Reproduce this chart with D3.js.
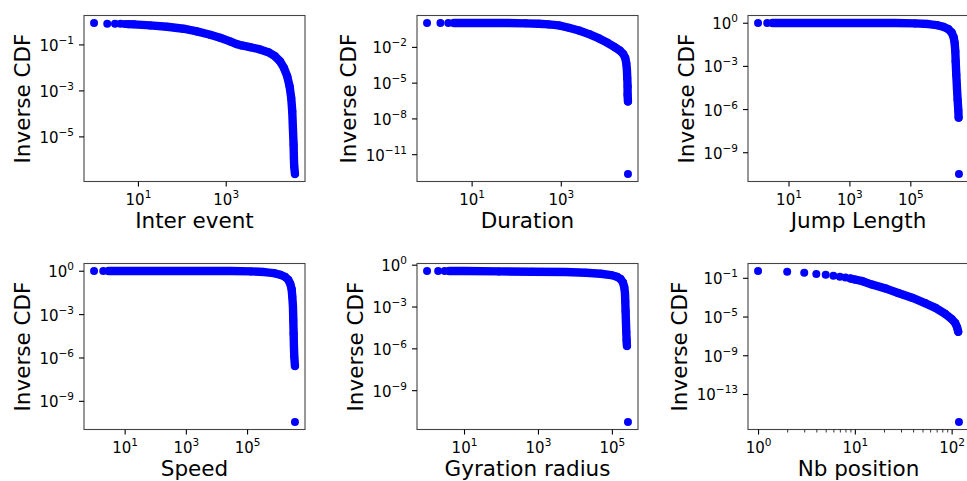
<!DOCTYPE html>
<html><head><meta charset="utf-8">
<script src="https://cdn.jsdelivr.net/npm/d3@7"></script>
<style>
body{margin:0;background:#fff}
svg{display:block}
text{font-family:"DejaVu Sans",sans-serif;fill:#000}
</style>
</head><body>
<svg id="chart" width="967" height="481"></svg>
<script>
// ---------- data ----------
// Inter event
const interDotX = [1, 2, 3, 4, 5];
const interDotY = [0.85, 0.80, 0.80, 0.80, 0.77];
const interX = [6, 8, 19, 46, 109, 220, 442, 745, 1256, 1778, 2313, 3580, 6040, 9330, 13240, 17200, 21200, 25200, 28500, 31100, 32800, 33950, 35200, 35800, 36400, 37800];
const interY = [0.76, 0.745, 0.673, 0.589, 0.482, 0.368, 0.264, 0.195, 0.135, 0.103, 0.0902, 0.0762, 0.0603, 0.0461, 0.0308, 0.0187, 0.00953, 0.00413, 0.00151, 4.67e-4, 1.22e-4, 2.29e-5, 4.29e-6, 1.12e-6, 4.85e-7, 2.32e-7];
const interXTicks = [1e1, 1e3];
const interYTicks = [1e-1, 1e-3, 1e-5];

// Duration
const durDotX = [1, 2, 3, 32100];
const durDotY = [1.0, 1.0, 1.0, 2.19e-13];
const durX = [4, 8.4, 23.7, 67, 160, 319, 537, 903, 1517, 2550, 4300, 7220, 11130, 16300, 21100, 25100, 27900, 29400, 30400, 31000, 31500, 31500, 32100];
const durY = [1.0, 1.0, 1.0, 1.0, 0.94, 0.88, 0.77, 0.636, 0.404, 0.24, 0.118, 0.0508, 0.0219, 0.00944, 0.00494, 0.00258, 0.00119, 4.49e-4, 1.23e-4, 2.44e-5, 4.83e-6, 9.57e-7, 2.62e-7];
const durXTicks = [1e1, 1e3];
const durYTicks = [1e-2, 1e-5, 1e-8, 1e-11];

// Jump Length
const jumpDotX = [1, 2, 3950000];
const jumpDotY = [0.95, 0.95, 3.09e-11];
const jumpX = [3, 16.6, 205, 2550, 31500, 143000, 390000, 732000, 1210000, 1770000, 2270000, 2640000, 2850000, 3000000, 3080000, 3230000, 3400000, 3570000, 3760000, 3850000];
const jumpY = [0.95, 0.95, 0.95, 0.95, 0.95, 0.90, 0.807, 0.687, 0.525, 0.361, 0.211, 0.0995, 0.0399, 0.01045, 0.00209, 2.44e-4, 2.85e-5, 4.36e-6, 8.71e-7, 2.53e-7];
const jumpXTicks = [1e1, 1e3, 1e5];
const jumpYTicks = [1e0, 1e-3, 1e-6, 1e-9];

// Speed
const speedDotX = [1, 2, 3670000];
const speedDotY = [0.95, 0.95, 3.47e-11];
const speedX = [3, 16.5, 201, 2460, 30100, 135000, 367000, 740000, 1220000, 1730000, 2220000, 2580000, 2860000, 3000000, 3160000, 3240000, 3320000, 3400000, 3490000, 3670000];
const speedY = [0.95, 0.95, 0.95, 0.95, 0.95, 0.90, 0.808, 0.689, 0.527, 0.383, 0.237, 0.125, 0.0533, 0.0165, 0.00333, 3.96e-4, 4.69e-5, 5.56e-6, 1.12e-6, 2.53e-7];
const speedXTicks = [1e1, 1e3, 1e5];
const speedYTicks = [1e0, 1e-3, 1e-6, 1e-9];

// Gyration radius
const gyrDotX = [1, 2, 3, 272000];
const gyrDotY = [0.35, 0.35, 0.35, 5.25e-12];
const gyrX = [4, 10.9, 87, 702, 5640, 19700, 50400, 94000, 137000, 172000, 199000, 216000, 226000, 230000, 235000, 240000, 245000, 250000, 255000];
const gyrY = [0.35, 0.35, 0.331, 0.313, 0.296, 0.265, 0.225, 0.18, 0.137, 0.0929, 0.0535, 0.0247, 0.00912, 0.00229, 4.37e-4, 8.32e-5, 1.58e-5, 3.98e-6, 1.48e-6];
const gyrXTicks = [1e1, 1e3, 1e5];
const gyrYTicks = [1e0, 1e-3, 1e-6, 1e-9];

// Nb position
const nbDotX = [1, 2, 3, 4, 5, 6, 7, 8, 119];
const nbDotY = [0.5, 0.42, 0.333, 0.242, 0.206, 0.162, 0.127, 0.108, 1.29e-16];
const nbX = [9, 10, 12, 15, 21, 28, 39, 53, 68, 86, 100, 109, 114, 117];
const nbY = [0.0851, 0.0668, 0.0448, 0.02, 0.00766, 0.0027, 8.75e-4, 2.43e-4, 7.87e-5, 1.86e-5, 5.57e-6, 2.12e-6, 7.48e-7, 2.63e-7];
const nbXTicks = [1e0, 1e1, 1e2];
const nbXMinor = [2, 3, 4, 5, 6, 7, 8, 9, 20, 30, 40, 50, 60, 70, 80, 90];
const nbYTicks = [1e-1, 1e-5, 1e-9, 1e-13];

const xLabels = ["Inter event", "Duration", "Jump Length", "Speed", "Gyration radius", "Nb position"];
const yLabel = "Inverse CDF";

// ---------- layout ----------
const panels = [
  {dx: interDotX, dy: interDotY, cx: interX, cy: interY, xt: interXTicks, yt: interYTicks, xm: []},
  {dx: durDotX, dy: durDotY, cx: durX, cy: durY, xt: durXTicks, yt: durYTicks, xm: []},
  {dx: jumpDotX, dy: jumpDotY, cx: jumpX, cy: jumpY, xt: jumpXTicks, yt: jumpYTicks, xm: []},
  {dx: speedDotX, dy: speedDotY, cx: speedX, cy: speedY, xt: speedXTicks, yt: speedYTicks, xm: []},
  {dx: gyrDotX, dy: gyrDotY, cx: gyrX, cy: gyrY, xt: gyrXTicks, yt: gyrYTicks, xm: []},
  {dx: nbDotX, dy: nbDotY, cx: nbX, cy: nbY, xt: nbXTicks, yt: nbYTicks, xm: nbXMinor}
];
const lefts = [84, 417, 748], tops = [15.5, 263.5], PW = 221, PH = 166;
const BLUE = "#0000ff";
const TICK_FS = 15, SUP_FS = 10.5, LABEL_FS = 21.5;
const svg = d3.select("#chart");

function padDomain(vals) {
  const l = vals.map(Math.log10);
  const mn = d3.min(l), mx = d3.max(l), m = (mx - mn) * 0.05;
  return [Math.pow(10, mn - m), Math.pow(10, mx + m)];
}
function expText(d) {
  const e = Math.round(Math.log10(d));
  return e < 0 ? "\u2212" + (-e) : String(e);
}
function sciLabel(sel) {
  sel.each(function(d) {
    const t = d3.select(this);
    t.text(null);
    t.append("tspan").text("10");
    t.append("tspan").attr("dy", -7).attr("font-size", SUP_FS).text(expText(d));
  });
}

panels.forEach((p, i) => {
  const left = lefts[i % 3], top = tops[Math.floor(i / 3)];
  const allX = p.dx.concat(p.cx), allY = p.dy.concat(p.cy);
  const x = d3.scaleLog().domain(padDomain(allX)).range([left, left + PW]);
  const y = d3.scaleLog().domain(padDomain(allY)).range([top + PH, top]);
  const g = svg.append("g");

  // dense run drawn as a thick band through its points
  const pts = p.cx.map((v, k) => [x(v), y(p.cy[k])]);
  g.append("path")
    .attr("d", d3.line()(pts))
    .attr("fill", "none").attr("stroke", BLUE)
    .attr("stroke-width", 8.4).attr("stroke-linecap", "round").attr("stroke-linejoin", "round");
  g.selectAll("circle.c").data(pts).join("circle")
    .attr("cx", d => d[0]).attr("cy", d => d[1]).attr("r", 4).attr("fill", BLUE);
  g.selectAll("circle.d").data(p.dx.map((v, k) => [x(v), y(p.dy[k])])).join("circle")
    .attr("class", "d")
    .attr("cx", d => d[0]).attr("cy", d => d[1]).attr("r", 4).attr("fill", BLUE);

  // frame
  g.append("rect").attr("x", left).attr("y", top).attr("width", PW).attr("height", PH)
    .attr("fill", "none").attr("stroke", "#444").attr("stroke-width", 1.1);

  // x axis
  const gx = g.append("g").attr("transform", `translate(0,${top + PH})`)
    .call(d3.axisBottom(x).tickValues(p.xt).tickSize(5).tickFormat(() => ""));
  gx.select(".domain").remove();
  gx.selectAll(".tick line").attr("stroke", "#000").attr("stroke-width", 1.1);
  gx.selectAll(".tick text").attr("y", 23).attr("dy", null)
    .attr("font-size", TICK_FS).attr("font-family", "DejaVu Sans").attr("fill", "#000").call(sciLabel);
  if (p.xm.length) {
    const gm = g.append("g").attr("transform", `translate(0,${top + PH})`)
      .call(d3.axisBottom(x).tickValues(p.xm).tickSize(3).tickFormat(() => ""));
    gm.select(".domain").remove();
    gm.selectAll(".tick line").attr("stroke", "#000").attr("stroke-width", 0.8);
  }

  // y axis
  const gy = g.append("g").attr("transform", `translate(${left},0)`)
    .call(d3.axisLeft(y).tickValues(p.yt).tickSize(5).tickPadding(5).tickFormat(() => ""));
  gy.select(".domain").remove();
  gy.selectAll(".tick line").attr("stroke", "#000").attr("stroke-width", 1.1);
  gy.selectAll(".tick text").attr("dy", null).attr("y", 6)
    .attr("font-size", TICK_FS).attr("font-family", "DejaVu Sans").attr("fill", "#000").call(sciLabel);

  let minX = 0;
  gy.selectAll(".tick text").each(function() { minX = Math.min(minX, this.getBBox().x); });

  // axis labels
  g.append("text").attr("x", left + PW / 2).attr("y", top + PH + 46)
    .attr("text-anchor", "middle").attr("font-size", LABEL_FS).text(xLabels[i]);
  g.append("text")
    .attr("transform", `translate(${left + minX - 9.5},${top + PH / 2}) rotate(-90)`)
    .attr("text-anchor", "middle").attr("font-size", LABEL_FS).text(yLabel);
});
</script>
</body></html>
